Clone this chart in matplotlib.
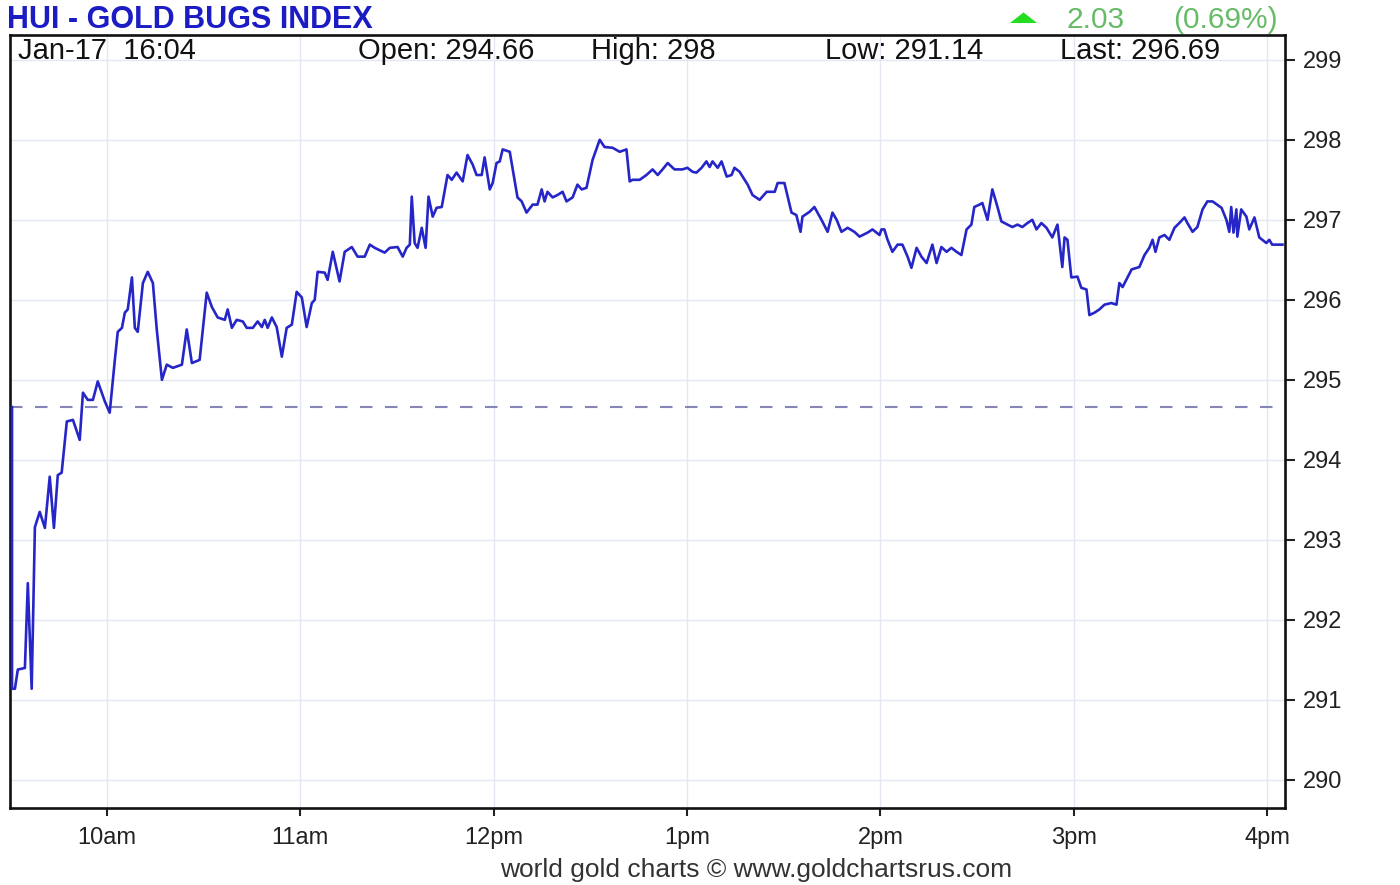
import matplotlib.pyplot as plt
from matplotlib.patches import Polygon

plt.rcParams['font.family'] = ['Liberation Sans Narrow', 'Liberation Sans', 'DejaVu Sans']

# minutes after 9:30 and index values
minutes = [
    0.6, 0.6, 1.5, 2.4, 4.6, 5.5, 6.7, 7.7, 9.2, 10.8, 12.3, 13.6, 14.8, 16.0, 17.6, 19.5,
    21.6, 22.6, 24.1, 25.7, 27.2, 29.4, 30.9, 32.5, 33.4, 34.7, 35.6, 36.5, 37.8, 38.7,
    39.6, 41.2, 42.7, 44.3, 45.5, 47.1, 48.6, 50.5, 53.3, 54.8, 56.4, 58.8, 61.0, 62.6,
    64.4, 66.6, 67.5, 68.8, 70.3, 72.2, 73.4, 75.3, 76.8, 78.1, 79.0, 79.9, 81.2, 82.7,
    84.3, 85.8, 87.4, 88.9, 90.5, 92.0, 93.6, 94.5, 95.4, 97.6, 98.5, 100.1, 102.2, 103.8,
    106.0, 107.8, 110.0, 111.6, 113.1, 116.2, 117.8, 120.2, 121.8, 123.0, 124.0, 124.6,
    125.5, 126.4, 127.7, 128.9, 129.8, 131.1, 132.3, 133.9, 135.7, 137.0, 138.5, 140.4,
    141.9, 143.5, 144.7, 146.3, 147.2, 148.8, 149.7, 150.9, 151.9, 152.8, 155.0, 157.4,
    158.7, 160.2, 162.1, 163.6, 164.9, 165.8, 166.7, 168.3, 169.8, 171.4, 172.6, 174.5,
    176.0, 177.3, 178.8, 180.7, 182.9, 184.4, 186.9, 189.1, 191.2, 192.2, 193.1, 195.3,
    197.4, 199.3, 200.9, 202.4, 204.0, 206.1, 208.6, 210.1, 211.7, 212.9, 214.5, 216.0,
    217.0, 217.9, 219.5, 220.7, 222.3, 223.8, 224.7, 226.3, 228.8, 230.3, 232.5, 234.7,
    237.2, 238.1, 240.2, 242.4, 243.9, 245.2, 245.8, 248.0, 249.5, 251.7, 253.6, 255.1,
    256.4, 257.9, 259.8, 261.9, 263.5, 266.0, 267.5, 269.7, 270.3, 271.2, 272.2, 273.7,
    275.3, 276.8, 278.4, 279.6, 281.2, 282.7, 284.3, 286.1, 287.4, 288.9, 290.5, 292.0,
    293.6, 295.1, 296.7, 298.2, 299.1, 300.7, 301.6, 303.2, 304.7, 306.3, 307.5, 309.4,
    310.9, 312.5, 314.0, 315.6, 317.1, 318.4, 319.9, 321.5, 323.3, 324.9, 326.4, 327.1,
    328.0, 329.2, 331.1, 332.3, 333.9, 334.8, 336.4, 337.9, 339.5, 341.6, 343.2, 344.1,
    345.1, 347.9, 350.3, 351.9, 353.4, 354.4, 355.3, 356.5, 358.1, 359.6, 361.2, 362.7,
    364.3, 365.2, 366.8, 368.3, 369.9, 371.4, 373.0, 375.8, 377.3, 378.2, 378.8, 379.5,
    380.4, 380.7, 381.9, 383.5, 384.4, 386.0, 387.5, 389.7, 390.6, 391.5, 394.7,
]
prices = [
    294.66, 291.14, 291.14, 291.38, 291.40, 292.46, 291.14, 293.16, 293.35, 293.15, 293.79,
    293.15, 293.81, 293.84, 294.48, 294.50, 294.25, 294.84, 294.75, 294.75, 294.98, 294.73,
    294.59, 295.25, 295.60, 295.65, 295.84, 295.88, 296.28, 295.65, 295.60, 296.21, 296.35,
    296.21, 295.63, 295.00, 295.19, 295.15, 295.19, 295.63, 295.21, 295.25, 296.09, 295.91,
    295.78, 295.75, 295.88, 295.65, 295.75, 295.73, 295.65, 295.65, 295.73, 295.66, 295.75,
    295.65, 295.78, 295.66, 295.29, 295.65, 295.69, 296.10, 296.03, 295.66, 295.96, 296.00,
    296.35, 296.34, 296.25, 296.60, 296.23, 296.60, 296.66, 296.54, 296.54, 296.69, 296.65,
    296.59, 296.65, 296.66, 296.54, 296.65, 296.69, 297.29, 296.71, 296.65, 296.90, 296.65,
    297.29, 297.04, 297.15, 297.16, 297.56, 297.50, 297.59, 297.48, 297.81, 297.69, 297.56,
    297.56, 297.78, 297.38, 297.46, 297.71, 297.73, 297.88, 297.85, 297.28, 297.23, 297.09,
    297.19, 297.19, 297.38, 297.23, 297.35, 297.28, 297.31, 297.35, 297.23, 297.28, 297.44,
    297.38, 297.40, 297.75, 298.00, 297.91, 297.90, 297.85, 297.88, 297.48, 297.50, 297.50,
    297.56, 297.63, 297.56, 297.63, 297.71, 297.63, 297.63, 297.65, 297.60, 297.59, 297.65,
    297.73, 297.66, 297.73, 297.65, 297.73, 297.54, 297.56, 297.65, 297.60, 297.44, 297.31,
    297.25, 297.35, 297.35, 297.46, 297.46, 297.09, 297.06, 296.85, 297.04, 297.10, 297.16,
    297.00, 296.85, 297.09, 297.00, 296.85, 296.90, 296.85, 296.79, 296.84, 296.88, 296.81,
    296.88, 296.88, 296.75, 296.60, 296.69, 296.69, 296.54, 296.40, 296.65, 296.54, 296.46,
    296.69, 296.46, 296.66, 296.60, 296.65, 296.60, 296.56, 296.88, 296.94, 297.16, 297.19,
    297.21, 297.00, 297.38, 297.16, 296.98, 296.94, 296.91, 296.94, 296.91, 296.96, 297.00,
    296.88, 296.96, 296.90, 296.78, 296.94, 296.41, 296.78, 296.75, 296.28, 296.29, 296.15,
    296.13, 295.81, 295.84, 295.88, 295.94, 295.96, 295.94, 296.21, 296.16, 296.38, 296.41,
    296.56, 296.65, 296.75, 296.60, 296.78, 296.81, 296.75, 296.90, 296.96, 297.03, 296.96,
    296.85, 296.91, 297.13, 297.23, 297.23, 297.15, 297.00, 296.85, 297.16, 296.84, 297.13,
    296.79, 297.13, 297.04, 296.88, 297.03, 296.78, 296.71, 296.75, 296.69, 296.69,
]

open_price = 294.66
hour_ticks = [30, 90, 150, 210, 270, 330, 390]
hour_labels = ['10am', '11am', '12pm', '1pm', '2pm', '3pm', '4pm']
price_ticks = [290, 291, 292, 293, 294, 295, 296, 297, 298, 299]

fig = plt.figure(figsize=(14, 8.85), dpi=100)
ax = fig.add_axes([0.0072, 0.087, 0.9107, 0.8735])

ax.plot(minutes, prices, color='#2626c8', lw=1.9, zorder=3)
ax.axhline(open_price, color='#8585b8', lw=1.5, ls=(0, (6, 6)), zorder=2)

ax.set_xlim(0, 395.5)
ax.set_ylim(289.65, 299.31)
ax.set_xticks(hour_ticks)
ax.set_xticklabels(hour_labels)
ax.set_yticks(price_ticks)
ax.yaxis.tick_right()
ax.grid(True, color='#e2e7f1', lw=1)
ax.tick_params(axis='both', length=7, width=1.5, direction='out', labelsize=17,
               colors='#222222')
ax.tick_params(axis='x', pad=8, length=6)
ax.tick_params(axis='y', pad=6)
for s in ax.spines.values():
    s.set_linewidth(1.9)
    s.set_color('#111111')

fig.text(0.005, 0.9684, 'HUI - GOLD BUGS INDEX', color='#1c1cc4', fontsize=22,
         fontweight='bold', va='baseline', ha='left')
info = [('Jan-17  16:04', 0.013), ('Open: 294.66', 0.256), ('High: 298', 0.422),
        ('Low: 291.14', 0.589), ('Last: 296.69', 0.757)]
for txt, x in info:
    fig.text(x, 0.933, txt, fontsize=21, color='#111111', va='baseline', ha='left')

# green up-arrow next to the change
fig.add_artist(Polygon([(0.7214, 0.974), (0.7407, 0.974), (0.7311, 0.986)], closed=True,
                       transform=fig.transFigure, facecolor='#22dd22', edgecolor='none'))
fig.text(0.7621, 0.9684, '2.03', color='#66bb66', fontsize=21.5, va='baseline', ha='left')
fig.text(0.9129, 0.9684, '(0.69%)', color='#66bb66', fontsize=21.5, va='baseline', ha='right')

fig.text(0.54, 0.0095, 'world gold charts \u00a9 www.goldchartsrus.com', color='#333333',
         fontsize=19, ha='center', va='baseline')

fig.savefig('out.png', dpi=100)
